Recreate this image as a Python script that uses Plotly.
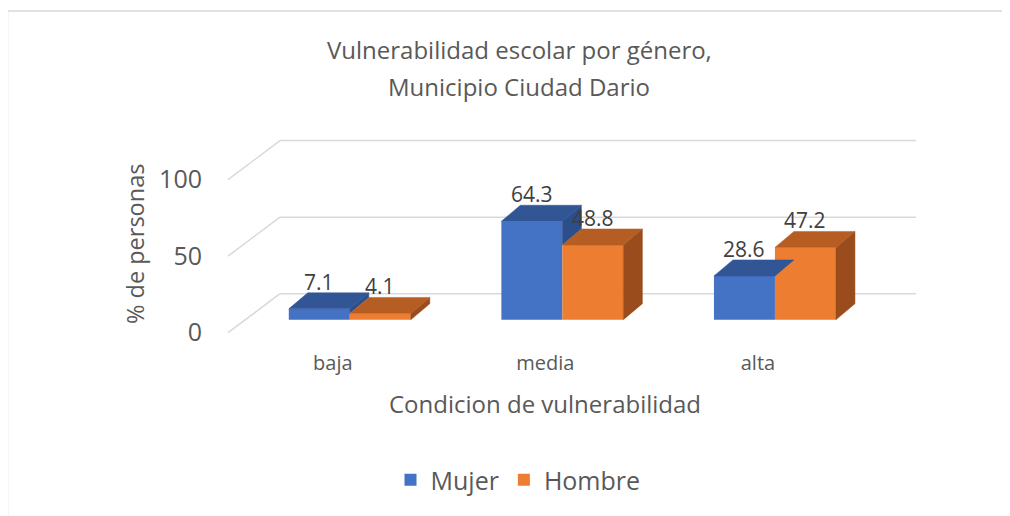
import plotly.graph_objects as go

# ---------------- data ----------------
categories = ["baja", "media", "alta"]
mujer = [7.1, 64.3, 28.6]
hombre = [4.1, 48.8, 47.2]
series_names = ["Mujer", "Hombre"]
y_ticks = [0, 50, 100]
title_lines = ["Vulnerabilidad escolar por género,", "Municipio Ciudad Dario"]
x_title = "Condicion de vulnerabilidad"
y_title = "% de personas"

# ---------------- layout geometry ----------------
PAGE_OFF = 8  # default body margin of the html page
W, H = 1010, 516
ML, MT = 218 - PAGE_OFF, 136 - PAGE_OFF
MR = W - (928 - PAGE_OFF)
MB = H - (335 - PAGE_OFF)
XR = [-0.62, 2.72]
YR = [-10, 120]
PW = W - ML - MR
PH = H - MT - MB
XPX = PW / (XR[1] - XR[0])
YPX = PH / (YR[1] - YR[0])


def dx(p):
    return p / XPX


def dy(p):
    return p / YPX


def paper_x(px):
    return (px - PAGE_OFF - ML) / PW


def paper_y(py):
    return (H - MB - (py - PAGE_OFF)) / PH


FONT = "Open Sans"
TXT = "#595959"
LBL = "#404040"
GRID = "#D9D9D9"
front_cols = ["#4472C4", "#ED7D31"]
top_cols = ["#325596", "#B55D22"]
side_cols = ["#2C4E8A", "#9A4C1C"]

bw = dx(61)                 # bar width
ddx, ddy = dx(19), dy(16)   # bar depth
offsets = [-bw, 0.0]
series = [mujer, hombre]
xs = list(range(len(categories)))

fig = go.Figure()

# front faces (real bars)
for k, (name, vals) in enumerate(zip(series_names, series)):
    fig.add_bar(x=xs, y=vals, width=bw, offset=offsets[k], name=name,
                marker=dict(color=front_cols[k], line=dict(width=0)),
                hoverinfo="name+y")


def poly_trace(px, py, color):
    return go.Scatter(x=px, y=py, mode="lines", fill="toself", fillcolor=color,
                      line=dict(color=color, width=0.5), showlegend=False,
                      hoverinfo="skip")


# side & top faces
for k in range(2):
    sx, sy, tx, ty = [], [], [], []
    for i in xs:
        v = series[k][i]
        x0 = i + offsets[k]
        x1 = x0 + bw
        tx += [x0, x1, x1 + ddx, x0 + ddx, x0, None]
        ty += [v, v, v + ddy, v + ddy, v, None]
        base = min(v, series[1][i]) if k == 0 else 0
        if v > base:
            sx += [x1, x1, x1 + ddx, x1 + ddx, x1, None]
            sy += [base, v, v + ddy, base + ddy, base, None]
    if sx:
        fig.add_trace(poly_trace(sx, sy, side_cols[k]))
    fig.add_trace(poly_trace(tx, ty, top_cols[k]))

# walls / gridlines (3D style)
xLf = XR[0] + dx(10)
xLb = xLf + dx(52)
xRb = XR[0] + dx(916 - 218)
fy = -dy(13)
by = dy(26)
shapes = []
for v in y_ticks:
    shapes.append(dict(type="line", xref="x", yref="y", x0=xLf, y0=v + fy,
                       x1=xLb, y1=v + by, line=dict(color=GRID, width=1.5),
                       layer="below"))
    shapes.append(dict(type="line", xref="x", yref="y", x0=xLb, y0=v + by,
                       x1=xRb, y1=v + by, line=dict(color=GRID, width=1.5),
                       layer="below"))
# chart frame
shapes.append(dict(type="rect", xref="paper", yref="paper",
                   x0=paper_x(7.5), y0=paper_y(540), x1=paper_x(1030), y1=paper_y(11),
                   line=dict(color=GRID, width=1.5), fillcolor="rgba(0,0,0,0)",
                   layer="below"))

annotations = []
# data labels
for k in range(2):
    for i in xs:
        v = series[k][i]
        annotations.append(dict(x=i + offsets[k] + bw / 2, y=v + ddy, xref="x", yref="y",
                                text=f"{v:.1f}", showarrow=False, yanchor="bottom",
                                yshift=-5, font=dict(family=FONT, size=21, color=LBL)))
# title lines
for line, py in zip(title_lines, [50, 87]):
    annotations.append(dict(x=paper_x(519), y=paper_y(py), xref="paper", yref="paper",
                            text=line, showarrow=False, xanchor="center", yanchor="middle",
                            font=dict(family=FONT, size=24, color=TXT)))
# axis titles
annotations.append(dict(x=paper_x(545), y=paper_y(403), xref="paper", yref="paper",
                        text=x_title, showarrow=False, xanchor="center", yanchor="middle",
                        font=dict(family=FONT, size=24, color=TXT)))
annotations.append(dict(x=paper_x(135), y=paper_y(244), xref="paper", yref="paper",
                        text=y_title, showarrow=False, xanchor="center", yanchor="middle",
                        textangle=-90, font=dict(family=FONT, size=23.5, color=TXT)))

fig.update_layout(
    width=W, height=H,
    margin=dict(l=ML, r=MR, t=MT, b=MB, pad=0),
    paper_bgcolor="white", plot_bgcolor="white",
    barmode="overlay",
    shapes=shapes, annotations=annotations,
    font=dict(family=FONT, color=TXT),
    legend=dict(orientation="h", x=paper_x(518), y=paper_y(480), xanchor="center",
                yanchor="middle", font=dict(family=FONT, size=25, color=TXT),
                itemwidth=30, traceorder="normal"),
    xaxis=dict(range=XR, showgrid=False, zeroline=False, showline=False,
               tickmode="array", tickvals=[i + dx(-17) for i in xs], ticktext=categories,
               ticks="", ticklabelstandoff=14,
               tickfont=dict(family=FONT, size=20, color=TXT), fixedrange=True),
    yaxis=dict(range=YR, showgrid=False, zeroline=False, showline=False,
               tickmode="array", tickvals=[t + fy for t in y_ticks],
               ticktext=[str(t) for t in y_ticks], ticks="", ticklabelstandoff=15,
               tickfont=dict(family=FONT, size=25, color=TXT), fixedrange=True),
)

fig.write_html("out.html")
